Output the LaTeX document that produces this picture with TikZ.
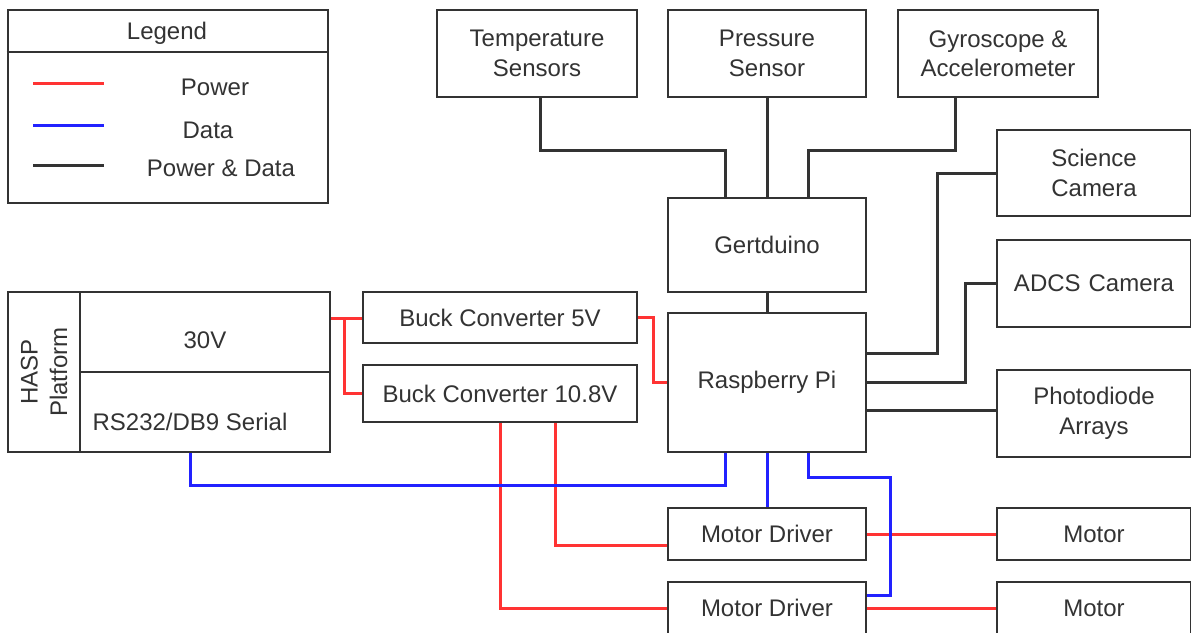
\documentclass[tikz,border=0pt]{standalone}
\usepackage{fontspec}
\setmainfont{Liberation Sans}
\definecolor{boxc}{HTML}{333333}
\definecolor{txtc}{HTML}{333333}
\definecolor{pwred}{HTML}{FF3333}
\definecolor{dtblue}{HTML}{2222FF}
\newcommand\fsz{\fontsize{24}{29.5}\selectfont}
\begin{document}
\begin{tikzpicture}[x=1pt,y=-1pt,
  box/.style={draw=boxc, line width=2.6pt, fill=white, align=center, inner sep=0pt, font=\fsz, text=txtc},
  lbl/.style={inner sep=0pt, font=\fsz, text=txtc, align=center},
  pw/.style={draw=pwred, line width=3pt},
  dt/.style={draw=dtblue, line width=3pt},
  pd/.style={draw=boxc, line width=3pt}]
\useasboundingbox (0,0) rectangle (1191,632);
\begin{scope}
\clip (0,0) rectangle (1191,632);
% legend
\node[box, minimum width=320, minimum height=193] (legend) at (168,106.5) {};
\draw[draw=boxc, line width=2.6pt] (legend.west |- 0,52) coordinate (ldl) -- (legend.east |- 0,52) coordinate (ldr);
\node[lbl] (legt) at (167,33) {Legend};
\coordinate (l1a) at (33,83); \coordinate (l1b) at (104,83);
\coordinate (l2a) at (33,125); \coordinate (l2b) at (104,125);
\coordinate (l3a) at (33,165); \coordinate (l3b) at (104,165);
\draw[pw] (l1a) -- (l1b);
\draw[dt] (l2a) -- (l2b);
\draw[pd] (l3a) -- (l3b);
\node[lbl] (lp) at (215,87) {Power};
\node[lbl] (ld) at (208,130) {Data};
\node[lbl] (lpd) at (221,168) {Power \& Data};
% top sensors
\node[box, minimum width=200, minimum height=87] (temp) at (537,53.5) {Temperature\\Sensors};
\node[box, minimum width=198, minimum height=87] (pres) at (767,53.5) {Pressure\\Sensor};
\node[box, minimum width=200, minimum height=87] (gyro) at (998,53.5) {Gyroscope \&\\Accelerometer};
% right column
\node[box, minimum width=194, minimum height=86, text width=194] (sci) at (1094,173) {Science\\Camera};
\node[box, minimum width=194, minimum height=87, text width=194] (adcs) at (1094,283.5) {ADCS Camera};
\node[box, minimum width=194, minimum height=87, text width=194] (photo) at (1094,413.5) {Photodiode\\Arrays};
% center
\node[box, minimum width=198, minimum height=94] (gert) at (767,245) {Gertduino};
\node[box, minimum width=198, minimum height=139] (rpi) at (767,382.5) {Raspberry Pi};
% HASP
\node[box, minimum width=72, minimum height=160] (hasp) at (44,372) {};
\node[lbl, rotate=90] (haspt) at (hasp.center) {HASP\\Platform};
\node[box, minimum width=250, minimum height=80] (v30) at (205,332) {};
\node[lbl] (v30t) at (205,340) {30V};
\node[box, minimum width=250, minimum height=80] (rs) at (205,412) {};
\node[lbl] (rst) at (190,422) {RS232/DB9 Serial};
% buck converters
\node[box, minimum width=274, minimum height=51] (b5) at (500,317.5) {Buck Converter 5V};
\node[box, minimum width=274, minimum height=57] (b10) at (500,393.5) {Buck Converter 10.8V};
% motors
\node[box, minimum width=198, minimum height=52] (md1) at (767,534) {Motor Driver};
\node[box, minimum width=198, minimum height=52] (md2) at (767,608) {Motor Driver};
\node[box, minimum width=194, minimum height=52, text width=194] (m1) at (1094,534) {Motor};
\node[box, minimum width=194, minimum height=52, text width=194] (m2) at (1094,608) {Motor};
\end{scope}
% power & data connectors
\draw[pd] ([xshift=3]temp.south) -- ([xshift=3]temp.south |- 0,150) -| ([xshift=-42]gert.north);
\draw[pd] (pres.south) -- (gert.north);
\draw[pd] ([xshift=-43]gyro.south) -- ([xshift=-43]gyro.south |- 0,150) -| ([xshift=41]gert.north);
\draw[pd] (gert.south) -- (rpi.north);
\draw[pd] ([yshift=29]rpi.east) -- ([yshift=29]rpi.east -| 937,0) |- (sci.west);
\draw[pd] (rpi.east) -- (rpi.east -| 965,0) |- (adcs.west);
\draw[pd] ([yshift=-28]rpi.east) -- ([yshift=-28]rpi.east -| photo.west);
% power
\draw[pw] ([yshift=14]v30.east) -- ++(13,0) coordinate (pj) -- (pj -| b5.west);
\draw[pw] (pj) |- (b10.west);
\draw[pw] (b5.east) -- ++(15,0) |- (rpi.west);
\draw[pw] ([xshift=55]b10.south) |- ([yshift=-11]md1.west);
\draw[pw] (b10.south) |- (md2.west);
\draw[pw] (md1.east) -- (m1.west);
\draw[pw] (md2.east) -- (m2.west);
% data
\draw[dt] ([xshift=-15]rs.south) -- ([xshift=-15]rs.south |- 0,485) -| ([xshift=-42]rpi.south);
\draw[dt] (rpi.south) -- (md1.north);
\draw[dt] ([xshift=41]rpi.south) |- (890,477) |- ([yshift=13]md2.east);
\end{tikzpicture}
\end{document}
